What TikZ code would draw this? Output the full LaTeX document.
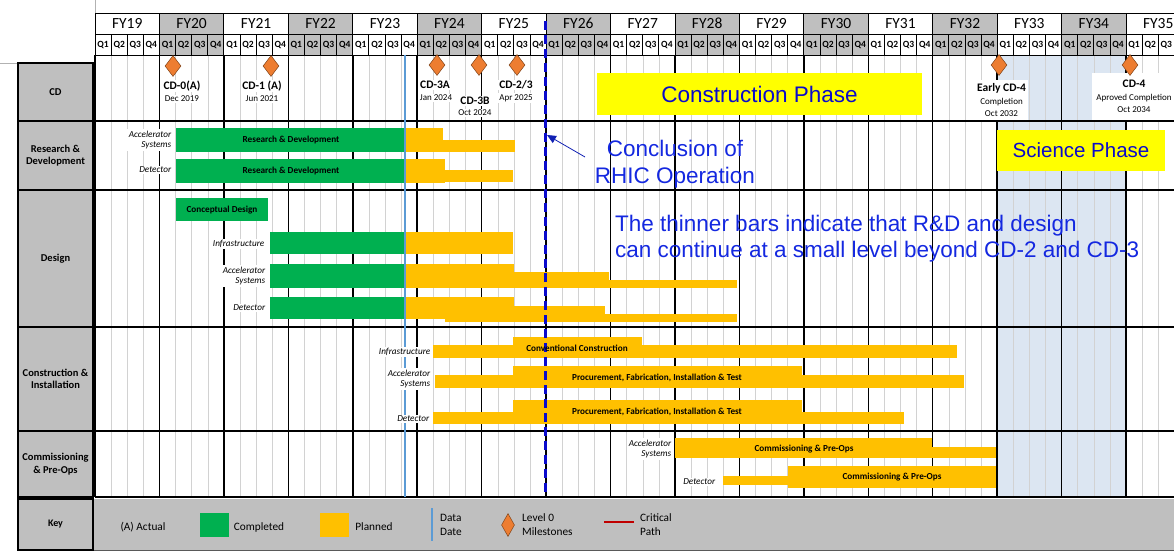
\documentclass[tikz,border=0pt]{standalone}
\usepackage{fontspec}
\setmainfont{Carlito}
\newfontfamily\arialfont{Liberation Sans}
\usepackage{tikz}
\usetikzlibrary{shapes.geometric, arrows.meta}
\definecolor{headgray}{HTML}{BFBFBF}
\definecolor{donegreen}{HTML}{00B050}
\definecolor{planorange}{HTML}{FFC000}
\definecolor{mileorange}{HTML}{ED7D31}
\definecolor{scienceblue}{HTML}{DCE6F2}
\definecolor{datablue}{HTML}{5B9BD5}
\definecolor{rhicblue}{HTML}{0A0ACC}
\definecolor{noteblue}{HTML}{1428E0}
\definecolor{phaseyellow}{HTML}{FFFF00}
\definecolor{critred}{HTML}{C00000}
\tikzstyle{fycell}=[draw, line width=0.8pt, inner sep=0pt, minimum width=64.44pt, minimum height=21pt, font=\fontsize{15.5}{18}\selectfont]
\tikzstyle{qcell}=[draw, line width=0.8pt, inner sep=0pt, minimum width=16.11pt, minimum height=21pt, font=\bfseries\fontsize{9.5}{10}\selectfont]
\tikzstyle{qline}=[gray!35, line width=0.5pt]
\tikzstyle{yearline}=[line width=1.5pt]
\tikzstyle{rowhead}=[draw, line width=1.3pt, fill=headgray, inner sep=0pt, minimum width=75pt, align=center, font=\bfseries\fontsize{10.5}{12.5}\selectfont]
\tikzstyle{milestone}=[diamond, draw=mileorange!55!black, line width=0.5pt, fill=mileorange, inner sep=0pt, minimum width=16pt, minimum height=21pt]
\tikzstyle{cdname}=[fill=white, inner sep=1pt, font=\bfseries\fontsize{11.5}{12}\selectfont]
\tikzstyle{cddate}=[fill=white, inner sep=1pt, font=\fontsize{9}{10}\selectfont]
\tikzstyle{cdbox}=[fill=white, inner sep=0pt, align=center, font=\fontsize{9}{12.5}\selectfont]
\tikzstyle{track}=[fill=white, inner sep=1.5pt, anchor=east, align=right, font=\itshape\fontsize{9.2}{10.5}\selectfont]
\tikzstyle{barlabel}=[inner sep=0pt, font=\bfseries\fontsize{9.2}{10}\selectfont]
\tikzstyle{donebar}=[fill=donegreen]
\tikzstyle{planbar}=[fill=planorange]
\tikzstyle{phasebox}=[fill=phaseyellow, inner sep=0pt, text=rhicblue]
\tikzstyle{notetext}=[text=noteblue, inner sep=0pt, font=\arialfont\fontsize{22.5}{26.5}\selectfont]
\tikzstyle{keytext}=[inner sep=0pt, font=\fontsize{11.3}{14}\selectfont]
\tikzstyle{keybox}=[inner sep=0pt, minimum width=29pt, minimum height=24pt]
\newcommand{\milestone}{\node[milestone]}
\newcommand{\track}{\node[track]}

\begin{document}
\begin{tikzpicture}[x=1pt, y=-1pt]
\useasboundingbox (0,0) rectangle (1174,551);

% science phase shading and quarter lines
\fill[scienceblue] (997.2,55) rectangle (1126,497);
\foreach \n in {1,...,72}
    \draw[qline] (95+16.11*\n,55) -- (95+16.11*\n,497);
\draw[gray!60] (95,0) -- (95,13);
\draw[gray!60] (0,63) -- (18,63);

% header
\foreach \n in {19,...,35} {
    \pgfmathsetmacro\xa{95+64.44*(\n-19)}
    \pgfmathtruncatemacro\odd{mod(\n,2)}
    \ifnum\odd=0 \def\cellfill{headgray}\else\def\cellfill{white}\fi
    \node[fycell, fill=\cellfill] (fy\n) at (\xa+32.22,23.5) {FY\n};
    \foreach \q in {1,...,4}
        \node[qcell, fill=\cellfill] (q\n-\q) at (\xa+16.11*\q-8.055,44.5) {Q\q};
}

% year and row lines
\foreach \n in {0,...,17}
    \draw[yearline] (95+64.44*\n,55) -- (95+64.44*\n,497);
\foreach \y in {121,190,327,431}
    \draw[yearline] (18,\y) -- (1174,\y);
\draw[yearline] (95,497) -- (1174,497);

% row headings
\node[rowhead, minimum height=58pt] (cdrow) at (55.5,92) {CD};
\node[rowhead, minimum height=69pt] (rdrow) at (55.5,155.5) {Research \&\\Development};
\node[rowhead, minimum height=137pt] (desrow) at (55.5,258.5) {Design};
\node[rowhead, minimum height=104pt] (conrow) at (55.5,379) {Construction \&\\Installation};
\node[rowhead, minimum height=66pt] (comrow) at (55.5,464) {Commissioning\\\& Pre-Ops};

% research & development
\fill[donebar] (176,128) rectangle (405,152);
\fill[planbar] (405,128) rectangle (443,152);
\fill[planbar] (405,140) rectangle (515,152);
\fill[donebar] (176,159) rectangle (405,183);
\fill[planbar] (405,159) rectangle (445,183);
\fill[planbar] (405,170) rectangle (513,182);

% design
\fill[donebar] (176,198) rectangle (268,221);
\fill[donebar] (270,232) rectangle (405,254);
\fill[planbar] (405,232) rectangle (513,254);
\fill[donebar] (270,264) rectangle (405,288);
\fill[planbar] (405,264) rectangle (514,288);
\fill[planbar] (405,272) rectangle (609,288);
\fill[planbar] (405,280) rectangle (737,288);
\fill[donebar] (270,297) rectangle (405,319);
\fill[planbar] (405,297) rectangle (514,319);
\fill[planbar] (405,306) rectangle (605,319);
\fill[planbar] (445,314) rectangle (737,322);

% construction & installation
\fill[planbar] (433,345) rectangle (957,358);
\fill[planbar] (513,337) rectangle (642,358);
\fill[planbar] (435,375) rectangle (964,388);
\fill[planbar] (513,366) rectangle (802,388);
\fill[planbar] (433,412) rectangle (904,424);
\fill[planbar] (513,400) rectangle (802,424);

% commissioning
\fill[planbar] (675,438) rectangle (932,458);
\fill[planbar] (932,447) rectangle (996,458);
\fill[planbar] (723,476) rectangle (788,485);
\fill[planbar] (788,466) rectangle (996,488);

% data date and end of RHIC
\draw[datablue, line width=1.2pt] (405,55) -- (405,497);
\draw[rhicblue, line width=3pt, dash pattern=on 9pt off 5pt] (545.5,21) -- (545.5,493);

% bar texts
\node[barlabel] (rd1) at (291,140) {Research \& Development};
\node[barlabel] (rd2) at (291,171) {Research \& Development};
\node[barlabel] (cdes) at (222,210) {Conceptual Design};
\node[barlabel] (cc) at (577,348) {Conventional Construction};
\node[barlabel] (pfit1) at (657,378) {Procurement, Fabrication, Installation \& Test};
\node[barlabel] (pfit2) at (657,412) {Procurement, Fabrication, Installation \& Test};
\node[barlabel] (cp1) at (804,449) {Commissioning \& Pre-Ops};
\node[barlabel] (cp2) at (892,477) {Commissioning \& Pre-Ops};

% track labels
\track (rdacc) at (173,140) {Accelerator\\Systems};
\track (rddet) at (173,170) {Detector};
\track (desinf) at (266,244) {Infrastructure};
\track (desacc) at (267,276) {Accelerator\\Systems};
\track (desdet) at (267,308) {Detector};
\track (coninf) at (432,352) {Infrastructure};
\track (conacc) at (432,379) {Accelerator\\Systems};
\track (condet) at (431,419) {Detector};
\track (comacc) at (673,449) {Accelerator\\Systems};
\track (comdet) at (717,482) {Detector};

% milestones
\milestone (cd0) at (173,66) {};
\node[cdname] (cd0name) at (182,86) {CD-0(A)};
\node[cddate] (cd0date) at (182,99) {Dec 2019};
\milestone (cd1) at (271,66) {};
\node[cdname] (cd1name) at (262,86) {CD-1 (A)};
\node[cddate] (cd1date) at (262,99) {Jun 2021};
\milestone (cd3a) at (437,65) {};
\node[cdname] (cd3aname) at (435,85) {CD-3A};
\node[cddate] (cd3adate) at (436,98) {Jan 2024};
\milestone (cd3b) at (479,65) {};
\node[cdname] (cd3bname) at (475,101) {CD-3B};
\node[cddate] (cd3bdate) at (475,113) {Oct 2024};
\milestone (cd23) at (517,65) {};
\node[cdname] (cd23name) at (516,85) {CD-2/3};
\node[cddate] (cd23date) at (516,98) {Apr 2025};
\node[cdbox, minimum width=53pt, minimum height=40pt] (ecd4lab) at (1001.5,100) {\textbf{\fontsize{11.5}{12}\selectfont Early CD-4}\\Completion\\Oct 2032};
\milestone (ecd4) at (999,65) {};
\node[cdbox, minimum width=84pt, minimum height=47pt] (cd4lab) at (1134,96.5) {\textbf{\fontsize{11.5}{12}\selectfont CD-4}\\Aproved Completion\\Oct 2034};
\milestone (cd4) at (1130,65) {};

% phases and notes
\node[phasebox, minimum width=325pt, minimum height=42pt, font=\arialfont\fontsize{22.5}{26}\selectfont] (cphase) at (759.5,94) {Construction Phase};
\node[phasebox, minimum width=168pt, minimum height=41pt, font=\arialfont\fontsize{20.5}{24}\selectfont] (sphase) at (1081,150.5) {Science Phase};
\node[notetext, align=center] (rhic) at (675,164) {Conclusion of\\RHIC Operation};
\coordinate (rhictail) at (585,157);
\coordinate (rhictip) at (547,135);
\draw[noteblue!80!black, line width=0.8pt, -{Triangle[length=9pt, width=8pt]}] (rhictail) -- (rhictip);
\node[notetext, align=left, anchor=west] (thinner) at (615,238.5) {The thinner bars indicate that R\&D and design\\can continue at a small level beyond CD-2 and CD-3};

% key
\fill[headgray] (93,499) rectangle (1174,550);
\draw[gray!70!black, line width=1pt] (93,550) -- (1174,550);
\node[rowhead, minimum height=51pt, font=\bfseries\fontsize{10}{11}\selectfont] (keyrow) at (55.5,524.5) {Key};
\node[keytext] (actual) at (143,527) {(A) Actual};
\node[keybox, fill=donegreen] (keydone) at (214.5,525) {};
\node[keytext] (keydonetext) at (259,527) {Completed};
\node[keybox, fill=planorange] (keyplan) at (334.5,525) {};
\node[keytext] (keyplantext) at (374,527) {Planned};
\coordinate (ddtop) at (432,508);
\coordinate (ddbot) at (432,541);
\draw[datablue, line width=1.2pt] (ddtop) -- (ddbot);
\node[keytext, align=left, anchor=west] (keydd) at (440,525) {Data\\Date};
\milestone[minimum width=13pt, minimum height=23pt] (keymile) at (508,525) {};
\node[keytext, align=left, anchor=west] (keymiletext) at (522,525) {Level 0\\Milestones};
\coordinate (cpa) at (604,522);
\coordinate (cpb) at (634,522);
\draw[critred, line width=1.5pt] (cpa) -- (cpb);
\node[keytext, align=left, anchor=west] (keycp) at (640,525) {Critical\\Path};
\end{tikzpicture}
\end{document}
